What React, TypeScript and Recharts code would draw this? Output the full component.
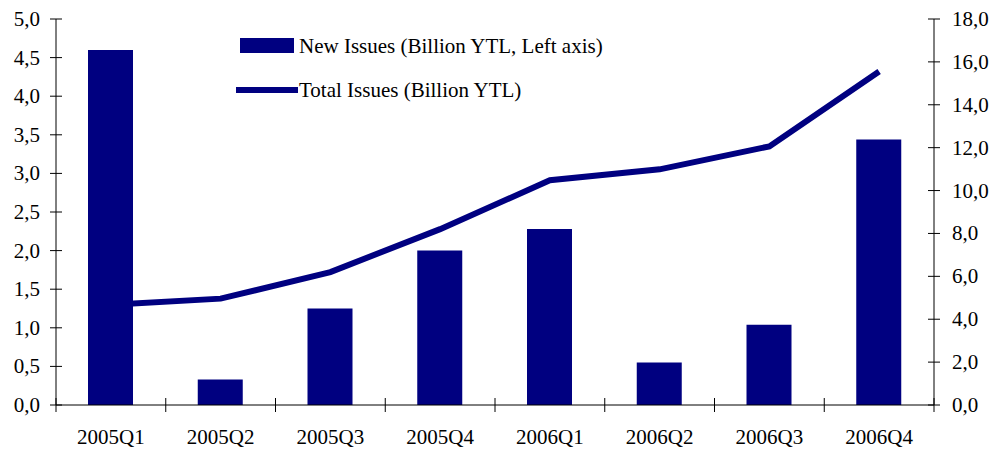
import React from 'react';
import { ComposedChart, Bar, Line, XAxis, YAxis } from 'recharts';

const categories = ['2005Q1', '2005Q2', '2005Q3', '2005Q4', '2006Q1', '2006Q2', '2006Q3', '2006Q4'];
const newIssues = [4.6, 0.33, 1.25, 2.0, 2.28, 0.55, 1.04, 3.44];
const totalIssues = [4.68, 4.96, 6.2, 8.2, 10.48, 10.99, 12.06, 15.55];
const leftTicks = [0, 0.5, 1, 1.5, 2, 2.5, 3, 3.5, 4, 4.5, 5];
const rightTicks = [0, 2, 4, 6, 8, 10, 12, 14, 16, 18];
const seriesNames = ['New Issues (Billion YTL, Left axis)', 'Total Issues (Billion YTL)'];

const data = categories.map((c, i) => ({ category: c, newIssues: newIssues[i], totalIssues: totalIssues[i] }));

const NAVY = '#000080';
const FONT = '"Liberation Serif", "Times New Roman", serif';
const FS = 21;

const fmt = (v: number) => v.toFixed(1).replace('.', ',');

const LeftTick = (props: any) => {
  const { x, y, payload } = props;
  const ax = x + 6 + 8;
  return (
    <g>
      <line x1={ax - 6} x2={ax + 6} y1={y} y2={y} stroke="#000" />
      <text x={x - 2} y={y} dy={7} textAnchor="end" fontFamily={FONT} fontSize={FS} fill="#000">
        {fmt(payload.value)}
      </text>
    </g>
  );
};

const RightTick = (props: any) => {
  const { x, y, payload } = props;
  const ax = x - 6 - 12;
  return (
    <g>
      <line x1={ax - 6} x2={ax + 6} y1={y} y2={y} stroke="#000" />
      <text x={x} y={y} dy={7} textAnchor="start" fontFamily={FONT} fontSize={FS} fill="#000">
        {fmt(payload.value)}
      </text>
    </g>
  );
};

const BottomTick = (props: any) => {
  const { x, y, payload, index, visibleTicksCount, width } = props;
  const count = visibleTicksCount || categories.length;
  const band = typeof width === 'number' && width > 0 ? width / count : 878 / count;
  const ay = y - 7 - 16;
  const left = x - band / 2;
  const right = x + band / 2;
  return (
    <g>
      <line x1={left} x2={left} y1={ay - 7} y2={ay + 7} stroke="#000" />
      {index === count - 1 && <line x1={right} x2={right} y1={ay - 7} y2={ay + 7} stroke="#000" />}
      <text x={x} y={ay + 39} textAnchor="middle" fontFamily={FONT} fontSize={FS} fill="#000">
        {payload.value}
      </text>
    </g>
  );
};

const LegendOverlay = () => (
  <svg width={420} height={80} style={{ position: 'absolute', left: 236, top: 29, display: 'block' }}>
    <rect x={4} y={9} width={54} height={15} fill={NAVY} />
    <text x={63} y={24} fontFamily={FONT} fontSize={FS} fill="#000">{seriesNames[0]}</text>
    <line x1={0} x2={62} y1={61} y2={61} stroke={NAVY} strokeWidth={6} />
    <text x={63} y={68} fontFamily={FONT} fontSize={FS} fill="#000">{seriesNames[1]}</text>
  </svg>
);

export default function App() {
  return (
    <div style={{ position: 'absolute', left: 0, top: 0, width: 992, height: 450, background: '#fff' }}>
      <ComposedChart width={992} height={450} data={data} margin={{ top: 19, right: 0, bottom: 0, left: 0 }}>
        <XAxis
          dataKey="category"
          height={45}
          tickSize={7}
          tickMargin={16}
          tickLine={false}
          axisLine={{ stroke: '#000' }}
          tick={<BottomTick />}
          interval={0}
        />
        <YAxis
          yAxisId="left"
          orientation="left"
          width={56}
          domain={[0, 5]}
          ticks={leftTicks}
          tickSize={6}
          tickMargin={8}
          tickLine={false}
          axisLine={{ stroke: '#000' }}
          tick={<LeftTick />}
          interval={0}
        />
        <YAxis
          yAxisId="right"
          orientation="right"
          width={58}
          domain={[0, 18]}
          ticks={rightTicks}
          tickSize={6}
          tickMargin={12}
          tickLine={false}
          axisLine={{ stroke: '#000' }}
          tick={<RightTick />}
          interval={0}
        />
        <Line
          yAxisId="right"
          dataKey="totalIssues"
          stroke={NAVY}
          strokeWidth={6}
          dot={false}
          activeDot={false}
          type="linear"
          isAnimationActive={false}
        />
        <Bar yAxisId="left" dataKey="newIssues" fill={NAVY} barSize={45} isAnimationActive={false} />
      </ComposedChart>
      <LegendOverlay />
    </div>
  );
}
